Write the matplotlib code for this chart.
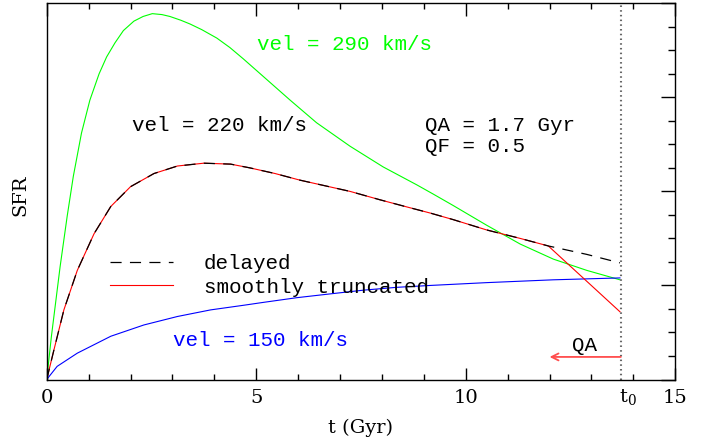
import matplotlib
matplotlib.use('Agg')
import matplotlib.pyplot as plt
from matplotlib.ticker import MultipleLocator

FONT = 'Liberation Mono'
AXFONT = 'DejaVu Serif'
plt.rcParams['font.family'] = [FONT, 'DejaVu Sans Mono']
plt.rcParams['mathtext.fontset'] = 'custom'
plt.rcParams['mathtext.rm'] = AXFONT
plt.rcParams['mathtext.it'] = AXFONT
plt.rcParams['lines.scale_dashes'] = False

# ---- data ----
t_290 = [0, 0.11, 0.32, 0.49, 0.635, 0.83, 1.03, 1.25, 1.43, 1.63, 1.83, 2.08, 2.30,
         2.52, 2.75, 2.94, 3.20, 3.42, 3.70, 4.06, 4.37, 4.69, 5.25, 5.81, 6.44,
         7.24, 8.03, 8.83, 9.23, 9.70, 10.5, 11.30, 12.09, 12.89, 13.68]
sfr_290 = [0, 0.45, 1.20, 1.74, 2.16, 2.62, 2.97, 3.25, 3.43, 3.58, 3.71, 3.81, 3.86,
           3.89, 3.88, 3.86, 3.82, 3.78, 3.72, 3.63, 3.53, 3.41, 3.19, 2.97, 2.73,
           2.48, 2.26, 2.07, 1.97, 1.85, 1.64, 1.44, 1.28, 1.16, 1.06]

t_220 = [0, 0.17, 0.41, 0.73, 1.13, 1.53, 2.00, 2.56, 3.12, 3.75, 4.39, 4.85, 5.45,
         6.04, 6.64, 7.24, 7.96, 8.55, 9.15, 9.70, 10.5, 11.30, 11.97, 12.89, 13.68]
sfr_220 = [0, 0.31, 0.74, 1.16, 1.55, 1.84, 2.05, 2.19, 2.27, 2.30, 2.29, 2.25, 2.19,
           2.12, 2.06, 2.00, 1.91, 1.84, 1.77, 1.70, 1.59, 1.50, 1.42, 1.33, 1.24]

t_trunc = [0, 0.17, 0.41, 0.73, 1.13, 1.53, 2.00, 2.56, 3.12, 3.75, 4.39, 4.85, 5.45,
           6.04, 6.64, 7.24, 7.96, 8.55, 9.15, 9.70, 10.5, 11.30, 11.97, 13.68]
sfr_trunc = [0, 0.31, 0.74, 1.16, 1.55, 1.84, 2.05, 2.19, 2.27, 2.30, 2.29, 2.25, 2.19,
             2.12, 2.06, 2.00, 1.91, 1.84, 1.77, 1.70, 1.59, 1.50, 1.42, 0.72]

t_150 = [0, 0.25, 0.73, 1.53, 2.32, 3.12, 3.91, 4.71, 5.17, 5.97, 6.76, 7.56,
         8.35, 9.15, 10.5, 12.09, 13.68]
sfr_150 = [0, 0.14, 0.28, 0.46, 0.58, 0.67, 0.74, 0.79, 0.82, 0.87, 0.91, 0.95,
           0.98, 1.00, 1.03, 1.06, 1.08]

t0 = 13.7
QA = 1.7
xticks = [0, 5, 10, 15]
xticklabels = ['0', '5', '10', '15']

GREEN = '#00ff00'
BLUE = '#0000ff'
RED = '#ff0000'
FS = 15      # in-plot annotations
FS_AX = 14   # tick and axis labels

fig = plt.figure(figsize=(7.13, 4.46), dpi=100)
ax = fig.add_axes([0.0655, 0.1491, 0.8816, 0.8435])

ax.plot(t_290, sfr_290, color=GREEN, lw=0.8)
ax.plot(t_150, sfr_150, color=BLUE, lw=0.8)
l_trunc, = ax.plot(t_trunc, sfr_trunc, color=RED, lw=0.8)
l_del, = ax.plot(t_220, sfr_220, color='black', lw=0.9, dashes=(8, 6))

ax.axvline(t0, color='#666666', lw=1.5, linestyle=(0, (1.1, 2.3)))

# QA arrow
ax.annotate('', xy=(t0 - QA, 0.24), xytext=(t0, 0.24),
            arrowprops=dict(arrowstyle='->,head_length=0.5,head_width=0.25',
                            color='#ff4d4d', lw=1.3, shrinkA=0, shrinkB=0))
ax.text(12.53, 0.36, 'QA', fontsize=FS, va='center', ha='left')

ax.text(5.02, 3.56, 'vel = 290 km/s', color=GREEN, fontsize=FS, va='center', ha='left')
ax.text(2.03, 2.70, 'vel = 220 km/s', color='black', fontsize=FS, va='center', ha='left')
ax.text(3.01, 0.41, 'vel = 150 km/s', color=BLUE, fontsize=FS, va='center', ha='left')
ax.text(9.03, 2.70, 'QA = 1.7 Gyr', fontsize=FS, va='center', ha='left')
ax.text(9.03, 2.48, 'QF = 0.5', fontsize=FS, va='center', ha='left')

leg = ax.legend([l_del, l_trunc], ['delayed', 'smoothly truncated'],
                frameon=False, fontsize=FS, handlelength=3.0, handletextpad=1.5,
                labelspacing=0.22, loc='center left',
                bbox_to_anchor=(0.0875, 0.2765), borderaxespad=0)

ax.set_xlim(0, 15)
ax.set_ylim(0, 4)
ax.set_xticks(xticks)
ax.set_xticklabels(xticklabels, fontfamily=AXFONT)
ax.xaxis.set_minor_locator(MultipleLocator(1))
ax.yaxis.set_major_locator(MultipleLocator(1))
ax.yaxis.set_minor_locator(MultipleLocator(0.25))
ax.tick_params(axis='x', which='both', direction='in', top=True, bottom=True,
               labelsize=FS_AX, pad=7, width=1.0)
ax.tick_params(axis='x', which='major', length=9)
ax.tick_params(axis='x', which='minor', length=4.5)
ax.tick_params(axis='y', which='both', direction='in', left=False, right=True,
               labelleft=False, labelright=False, width=1.0)
ax.tick_params(axis='y', which='major', length=10)
ax.tick_params(axis='y', which='minor', length=5)
for s in ax.spines.values():
    s.set_linewidth(1.0)

ax.text(t0 - 0.05, -0.02, r'$\mathrm{t_0}$', transform=ax.get_xaxis_transform(),
        fontsize=FS_AX, ha='left', va='top')

ax.set_xlabel('t (Gyr)', fontsize=FS_AX, fontfamily=AXFONT)
ax.xaxis.set_label_coords(0.5, -0.105)
ax.set_ylabel('SFR', fontsize=FS_AX, fontfamily=AXFONT)
ax.yaxis.set_label_coords(-0.027, 0.49)

fig.savefig('out.png', dpi=100)
